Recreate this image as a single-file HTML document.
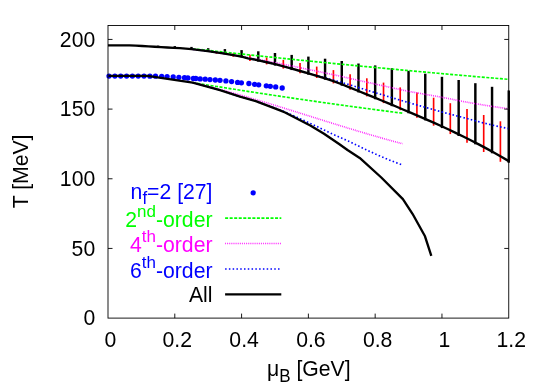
<!DOCTYPE html>
<html><head><meta charset="utf-8"><title>plot</title>
<style>html,body{margin:0;padding:0;background:#fff;width:545px;height:382px;overflow:hidden;}svg{display:block;}text{font-family:"Liberation Sans",sans-serif;}svg{will-change:transform;}</style>
</head><body>
<svg width="545" height="382" viewBox="0 0 545 382">
<rect x="0" y="0" width="545" height="382" fill="#ffffff"/>
<line x1="158.09" y1="45.60" x2="158.09" y2="46.94" stroke="#000" stroke-width="2.45"/>
<line x1="174.79" y1="46.10" x2="174.79" y2="47.90" stroke="#000" stroke-width="2.45"/>
<line x1="191.49" y1="46.90" x2="191.49" y2="49.15" stroke="#000" stroke-width="2.45"/>
<line x1="208.19" y1="48.20" x2="208.19" y2="51.17" stroke="#000" stroke-width="2.45"/>
<line x1="224.89" y1="49.10" x2="224.89" y2="54.45" stroke="#000" stroke-width="2.45"/>
<line x1="241.58" y1="50.10" x2="241.58" y2="57.51" stroke="#000" stroke-width="2.45"/>
<line x1="258.28" y1="51.30" x2="258.28" y2="61.66" stroke="#000" stroke-width="2.45"/>
<line x1="274.98" y1="53.00" x2="274.98" y2="65.55" stroke="#000" stroke-width="2.45"/>
<line x1="291.68" y1="54.90" x2="291.68" y2="70.07" stroke="#000" stroke-width="2.45"/>
<line x1="308.38" y1="56.60" x2="308.38" y2="74.69" stroke="#000" stroke-width="2.45"/>
<line x1="325.07" y1="58.70" x2="325.07" y2="79.69" stroke="#000" stroke-width="2.45"/>
<line x1="341.77" y1="61.00" x2="341.77" y2="85.68" stroke="#000" stroke-width="2.45"/>
<line x1="358.47" y1="63.50" x2="358.47" y2="92.43" stroke="#000" stroke-width="2.45"/>
<line x1="375.17" y1="65.40" x2="375.17" y2="99.24" stroke="#000" stroke-width="2.45"/>
<line x1="391.86" y1="68.20" x2="391.86" y2="106.16" stroke="#000" stroke-width="2.45"/>
<line x1="408.56" y1="70.80" x2="408.56" y2="113.26" stroke="#000" stroke-width="2.45"/>
<line x1="425.26" y1="73.70" x2="425.26" y2="120.37" stroke="#000" stroke-width="2.45"/>
<line x1="441.96" y1="76.80" x2="441.96" y2="128.10" stroke="#000" stroke-width="2.45"/>
<line x1="458.66" y1="80.00" x2="458.66" y2="135.98" stroke="#000" stroke-width="2.45"/>
<line x1="475.35" y1="83.20" x2="475.35" y2="144.32" stroke="#000" stroke-width="2.45"/>
<line x1="492.05" y1="86.80" x2="492.05" y2="153.27" stroke="#000" stroke-width="2.45"/>
<line x1="508.75" y1="90.40" x2="508.75" y2="162.82" stroke="#000" stroke-width="2.45"/>
<line x1="216.54" y1="51.30" x2="216.54" y2="53.71" stroke="#ff0000" stroke-width="1.65"/>
<line x1="233.23" y1="53.30" x2="233.23" y2="56.75" stroke="#ff0000" stroke-width="1.65"/>
<line x1="249.93" y1="54.85" x2="249.93" y2="60.98" stroke="#ff0000" stroke-width="1.65"/>
<line x1="266.63" y1="57.40" x2="266.63" y2="64.41" stroke="#ff0000" stroke-width="1.65"/>
<line x1="283.33" y1="59.90" x2="283.33" y2="68.61" stroke="#ff0000" stroke-width="1.65"/>
<line x1="300.03" y1="63.00" x2="300.03" y2="73.19" stroke="#ff0000" stroke-width="1.65"/>
<line x1="316.72" y1="66.60" x2="316.72" y2="78.00" stroke="#ff0000" stroke-width="1.65"/>
<line x1="333.42" y1="70.10" x2="333.42" y2="83.42" stroke="#ff0000" stroke-width="1.65"/>
<line x1="350.12" y1="74.20" x2="350.12" y2="89.67" stroke="#ff0000" stroke-width="1.65"/>
<line x1="366.82" y1="78.30" x2="366.82" y2="96.36" stroke="#ff0000" stroke-width="1.65"/>
<line x1="383.52" y1="82.60" x2="383.52" y2="103.12" stroke="#ff0000" stroke-width="1.65"/>
<line x1="400.21" y1="87.40" x2="400.21" y2="110.18" stroke="#ff0000" stroke-width="1.65"/>
<line x1="416.91" y1="92.45" x2="416.91" y2="117.66" stroke="#ff0000" stroke-width="1.65"/>
<line x1="433.61" y1="97.70" x2="433.61" y2="125.69" stroke="#ff0000" stroke-width="1.65"/>
<line x1="450.31" y1="103.20" x2="450.31" y2="134.07" stroke="#ff0000" stroke-width="1.65"/>
<line x1="467.01" y1="109.00" x2="467.01" y2="142.81" stroke="#ff0000" stroke-width="1.65"/>
<line x1="483.70" y1="115.00" x2="483.70" y2="152.02" stroke="#ff0000" stroke-width="1.65"/>
<line x1="500.40" y1="121.30" x2="500.40" y2="161.77" stroke="#ff0000" stroke-width="1.65"/>
<circle cx="109.00" cy="76.10" r="2.65" fill="#0000ff"/>
<circle cx="114.90" cy="76.10" r="2.65" fill="#0000ff"/>
<circle cx="120.70" cy="76.10" r="2.65" fill="#0000ff"/>
<circle cx="126.60" cy="76.10" r="2.65" fill="#0000ff"/>
<circle cx="132.40" cy="76.10" r="2.65" fill="#0000ff"/>
<circle cx="138.20" cy="76.10" r="2.65" fill="#0000ff"/>
<circle cx="144.00" cy="76.10" r="2.65" fill="#0000ff"/>
<circle cx="149.90" cy="76.20" r="2.65" fill="#0000ff"/>
<circle cx="155.50" cy="76.20" r="2.65" fill="#0000ff"/>
<circle cx="161.70" cy="76.30" r="2.65" fill="#0000ff"/>
<circle cx="167.10" cy="76.60" r="2.65" fill="#0000ff"/>
<circle cx="173.20" cy="77.00" r="2.65" fill="#0000ff"/>
<circle cx="178.90" cy="77.30" r="2.65" fill="#0000ff"/>
<circle cx="184.50" cy="77.70" r="2.65" fill="#0000ff"/>
<circle cx="187.90" cy="78.00" r="2.65" fill="#0000ff"/>
<circle cx="193.30" cy="78.40" r="2.65" fill="#0000ff"/>
<circle cx="195.80" cy="78.50" r="2.65" fill="#0000ff"/>
<circle cx="200.20" cy="78.90" r="2.65" fill="#0000ff"/>
<circle cx="205.20" cy="79.20" r="2.65" fill="#0000ff"/>
<circle cx="210.00" cy="79.60" r="2.65" fill="#0000ff"/>
<circle cx="215.30" cy="80.00" r="2.65" fill="#0000ff"/>
<circle cx="220.00" cy="80.30" r="2.65" fill="#0000ff"/>
<circle cx="225.90" cy="80.90" r="2.65" fill="#0000ff"/>
<circle cx="231.60" cy="81.60" r="2.65" fill="#0000ff"/>
<circle cx="237.60" cy="82.40" r="2.65" fill="#0000ff"/>
<circle cx="241.40" cy="82.80" r="2.65" fill="#0000ff"/>
<circle cx="248.90" cy="83.50" r="2.65" fill="#0000ff"/>
<circle cx="254.60" cy="84.30" r="2.65" fill="#0000ff"/>
<circle cx="258.70" cy="84.80" r="2.65" fill="#0000ff"/>
<circle cx="266.30" cy="85.80" r="2.65" fill="#0000ff"/>
<circle cx="270.30" cy="86.30" r="2.65" fill="#0000ff"/>
<circle cx="275.70" cy="86.90" r="2.65" fill="#0000ff"/>
<circle cx="282.20" cy="88.00" r="2.65" fill="#0000ff"/>
<path d="M192.60,48.70 L200.50,49.57 L208.40,50.44 L216.30,51.30 L224.20,52.16 L232.10,53.02 L240.00,53.86 L247.90,54.70 L255.80,55.54 L263.70,56.37 L271.60,57.19 L279.50,58.01 L287.40,58.83 L295.30,59.63 L303.20,60.44 L311.10,61.23 L319.00,62.02 L326.90,62.81 L334.80,63.59 L342.70,64.36 L350.60,65.13 L358.50,65.90 L366.40,66.66 L374.30,67.41 L382.20,68.15 L390.10,68.90 L398.00,69.63 L405.90,70.36 L413.80,71.09 L421.70,71.81 L429.60,72.52 L437.50,73.23 L445.40,73.93 L453.30,74.63 L461.20,75.32 L469.10,76.00 L477.00,76.68 L484.90,77.36 L492.80,78.03 L500.70,78.69 L508.60,79.35" fill="none" stroke="#00ff00" stroke-width="1.65" stroke-dasharray="3.03 1.51" stroke-linejoin="round" />
<path d="M192.60,82.57 L200.68,83.89 L208.75,85.20 L216.83,86.49 L224.91,87.78 L232.98,89.06 L241.06,90.32 L249.14,91.57 L257.22,92.81 L265.29,94.04 L273.37,95.26 L281.45,96.47 L289.52,97.66 L297.60,98.85 L305.68,100.02 L313.75,101.18 L321.83,102.33 L329.91,103.47 L337.98,104.60 L346.06,105.71 L354.14,106.82 L362.22,107.91 L370.29,108.99 L378.37,110.06 L386.45,111.12 L394.52,112.17 L402.60,113.21" fill="none" stroke="#00ff00" stroke-width="1.65" stroke-dasharray="3.03 1.51" stroke-linejoin="round" />
<path d="M192.60,49.28 L199.60,50.12 L207.70,51.10 L216.15,52.35 L224.60,53.60 L233.10,55.08 L241.60,56.71 L245.00,57.03 L252.99,58.47 L260.98,59.95 L268.96,61.47 L276.95,63.03 L284.94,64.61 L292.93,66.23 L300.92,67.87 L308.90,69.53 L316.89,71.22 L324.88,72.92 L332.87,74.63 L340.85,76.35 L348.84,78.14 L356.83,79.93 L364.82,81.72 L372.81,83.51 L380.79,85.29 L388.78,87.06 L396.77,88.81 L404.76,90.55 L412.75,92.11 L420.73,93.54 L428.72,94.94 L436.71,96.31 L444.70,97.83 L452.68,99.43 L460.67,101.00 L468.66,102.53 L476.65,103.90 L484.64,105.21 L492.62,106.46 L500.61,107.66 L508.60,108.80" fill="none" stroke="#ff00ff" stroke-width="1.65" stroke-dasharray="0.76 1.14" stroke-linejoin="round" />
<path d="M192.60,82.57 L200.68,84.49 L208.75,86.49 L216.83,88.58 L224.91,90.73 L232.98,92.96 L241.06,95.24 L249.14,97.57 L257.22,99.96 L265.29,102.38 L273.37,104.84 L281.45,107.33 L289.52,109.84 L297.60,112.36 L305.68,114.90 L313.75,117.43 L321.83,119.97 L329.91,122.49 L337.98,125.00 L346.06,127.49 L354.14,129.95 L362.22,132.37 L370.29,134.75 L378.37,137.08 L386.45,139.36 L394.52,141.58 L402.60,143.73" fill="none" stroke="#ff00ff" stroke-width="1.65" stroke-dasharray="0.76 1.14" stroke-linejoin="round" />
<path d="M192.60,49.28 L199.60,50.12 L207.70,51.10 L216.15,52.35 L224.60,53.60 L233.10,55.08 L241.60,56.71 L248.00,58.28 L258.50,60.30 L266.85,62.25 L275.20,64.20 L283.50,66.45 L291.80,68.70 L300.10,71.00 L308.40,73.30 L316.75,75.80 L322.00,76.96 L330.11,79.18 L338.23,81.48 L346.34,83.86 L354.45,86.29 L362.57,88.78 L370.68,91.30 L378.79,93.74 L386.90,96.17 L395.02,98.60 L403.13,101.03 L411.24,103.39 L419.36,105.64 L427.47,107.90 L435.58,110.21 L443.70,112.45 L451.81,114.61 L459.92,116.69 L468.03,118.81 L476.15,121.03 L484.26,123.14 L492.37,125.11 L500.49,126.94 L508.60,128.59" fill="none" stroke="#0000ff" stroke-width="1.65" stroke-dasharray="1.51 2.27" stroke-linejoin="round" />
<path d="M192.60,82.59 L192.70,82.60 L220.00,90.20 L240.00,96.70 L255.80,101.20 L278.00,109.13 L285.79,112.28 L293.57,115.72 L301.36,119.33 L309.15,122.85 L316.94,126.52 L324.73,130.33 L332.51,134.06 L340.30,137.51 L348.09,140.96 L355.88,144.73 L363.66,148.53 L371.45,152.21 L379.24,155.73 L387.03,159.06 L394.81,162.15 L402.60,164.95" fill="none" stroke="#0000ff" stroke-width="1.65" stroke-dasharray="1.51 2.27" stroke-linejoin="round" />
<path d="M108.00,45.30 L115.17,45.30 L122.33,45.30 L129.50,45.30 L135.81,45.66 L142.12,46.02 L148.44,46.39 L154.75,46.75 L161.06,47.11 L167.38,47.48 L173.69,47.84 L180.00,48.20 L191.50,49.15 L199.60,50.12 L207.70,51.10 L216.15,52.35 L224.60,53.60 L233.10,55.08 L241.60,56.71 L248.00,58.28 L258.50,60.30 L266.85,62.25 L275.20,64.20 L283.50,66.45 L291.80,68.70 L300.10,71.00 L308.40,73.30 L316.75,75.80 L325.10,78.30 L333.40,81.22 L341.70,84.25 L350.05,87.62 L358.40,91.00 L366.00,94.18 L373.52,97.17 L381.03,100.23 L388.55,103.35 L396.06,106.53 L403.58,109.77 L411.09,112.91 L418.61,116.10 L426.13,119.35 L433.64,122.65 L441.16,126.02 L448.67,129.52 L456.19,133.09 L463.71,136.73 L471.22,140.46 L478.74,144.38 L486.25,148.39 L493.77,152.51 L501.28,156.76 L508.80,161.14" fill="none" stroke="#000" stroke-width="2.35" stroke-linejoin="round" />
<path d="M108.50,75.80 L147.50,75.90 L192.70,82.60 L220.00,90.20 L240.00,96.70 L255.80,101.20 L280.00,110.40 L285.10,112.50 L310.30,125.50 L324.00,133.70 L339.10,144.00 L347.50,150.00 L359.70,157.90 L381.30,177.50 L402.90,199.20 L412.50,213.80 L425.00,236.30 L431.30,255.80" fill="none" stroke="#000" stroke-width="2.35" stroke-linejoin="round" />
<rect x="108.00" y="25.50" width="400.75" height="292.60" fill="none" stroke="#000" stroke-width="0.9"/>
<text transform="translate(95.2,325.20) scale(1,1.05)" font-size="21.2" text-anchor="end">0</text>
<path d="M108.00,248.43 h4.50 M508.75,248.43 h-4.50" stroke="#000" stroke-width="0.9" fill="none"/>
<text transform="translate(95.2,255.53) scale(1,1.05)" font-size="21.2" text-anchor="end">50</text>
<path d="M108.00,178.77 h4.50 M508.75,178.77 h-4.50" stroke="#000" stroke-width="0.9" fill="none"/>
<text transform="translate(95.2,185.87) scale(1,1.05)" font-size="21.2" text-anchor="end">100</text>
<path d="M108.00,109.10 h4.50 M508.75,109.10 h-4.50" stroke="#000" stroke-width="0.9" fill="none"/>
<text transform="translate(95.2,116.20) scale(1,1.05)" font-size="21.2" text-anchor="end">150</text>
<path d="M108.00,39.43 h4.50 M508.75,39.43 h-4.50" stroke="#000" stroke-width="0.9" fill="none"/>
<text transform="translate(95.2,46.53) scale(1,1.05)" font-size="21.2" text-anchor="end">200</text>
<text transform="translate(110.50,346.6) scale(1,1.045)" font-size="21.2" text-anchor="middle">0</text>
<path d="M174.79,318.10 v-4.50 M174.79,25.50 v4.50" stroke="#000" stroke-width="0.9" fill="none"/>
<text transform="translate(177.29,346.6) scale(1,1.045)" font-size="21.2" text-anchor="middle">0.2</text>
<path d="M241.58,318.10 v-4.50 M241.58,25.50 v4.50" stroke="#000" stroke-width="0.9" fill="none"/>
<text transform="translate(244.08,346.6) scale(1,1.045)" font-size="21.2" text-anchor="middle">0.4</text>
<path d="M308.38,318.10 v-4.50 M308.38,25.50 v4.50" stroke="#000" stroke-width="0.9" fill="none"/>
<text transform="translate(310.88,346.6) scale(1,1.045)" font-size="21.2" text-anchor="middle">0.6</text>
<path d="M375.17,318.10 v-4.50 M375.17,25.50 v4.50" stroke="#000" stroke-width="0.9" fill="none"/>
<text transform="translate(377.67,346.6) scale(1,1.045)" font-size="21.2" text-anchor="middle">0.8</text>
<path d="M441.96,318.10 v-4.50 M441.96,25.50 v4.50" stroke="#000" stroke-width="0.9" fill="none"/>
<text transform="translate(444.46,346.6) scale(1,1.045)" font-size="21.2" text-anchor="middle">1</text>
<text transform="translate(511.25,346.6) scale(1,1.045)" font-size="21.2" text-anchor="middle">1.2</text>
<text transform="translate(27.8,171.4) rotate(-90) scale(1,1.045)" font-size="21.2" text-anchor="middle">T [MeV]</text>
<text transform="translate(267,375.9) scale(1,1.045)" font-size="21.2">μ<tspan font-size="17.0" dy="6">B</tspan><tspan dy="-6"> [GeV]</tspan></text>
<text transform="translate(212.5,198.7) scale(1,1.045)" font-size="21.2" text-anchor="end" fill="#0000ff">n<tspan font-size="17.0" dy="5">f</tspan><tspan dy="-5">=2 [27]</tspan></text>
<text x="212.5" y="226.5" font-size="21.2" text-anchor="end" fill="#00ff00">2<tspan font-size="17.0" dy="-10">nd</tspan><tspan dy="10">-order</tspan></text>
<text x="212.5" y="252.4" font-size="21.2" text-anchor="end" fill="#ff00ff">4<tspan font-size="17.0" dy="-10">th</tspan><tspan dy="10">-order</tspan></text>
<text x="212.5" y="277.9" font-size="21.2" text-anchor="end" fill="#0000ff">6<tspan font-size="17.0" dy="-10">th</tspan><tspan dy="10">-order</tspan></text>
<text transform="translate(212.5,302.0) scale(1,1.045)" font-size="21.2" text-anchor="end" fill="#000">All</text>
<circle cx="253.20" cy="192.80" r="2.65" fill="#0000ff"/>
<path d="M225.10,218.10 L281.30,218.10" fill="none" stroke="#00ff00" stroke-width="1.65" stroke-dasharray="3.03 1.51" stroke-linejoin="round" />
<path d="M225.10,243.50 L281.30,243.50" fill="none" stroke="#ff00ff" stroke-width="1.65" stroke-dasharray="0.76 1.14" stroke-linejoin="round" />
<path d="M225.10,269.00 L281.30,269.00" fill="none" stroke="#0000ff" stroke-width="1.65" stroke-dasharray="1.51 2.27" stroke-linejoin="round" />
<path d="M225.10,294.30 L281.30,294.30" fill="none" stroke="#000" stroke-width="2.35" stroke-linejoin="round" />
</svg></body></html>
